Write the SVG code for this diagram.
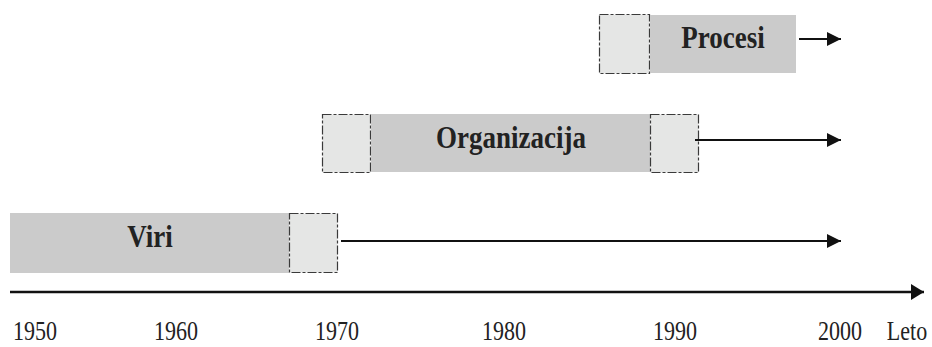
<svg xmlns="http://www.w3.org/2000/svg" width="932" height="347" viewBox="0 0 932 347">
  <style>
    .bar { fill: #cbcbcb; }
    .ext { fill: #e5e6e5; stroke: #3a3a3a; stroke-width: 1.2; stroke-dasharray: 9 2 3 2; }
    .title { font-family: "Liberation Serif", "Times New Roman", serif; font-weight: bold; font-size: 27px; fill: #222; text-anchor: middle; }
    .year { font-family: "Liberation Serif", "Times New Roman", serif; font-size: 22px; fill: #222; text-anchor: middle; }
    .conn { stroke: #111; stroke-width: 2; fill: none; }
    .axis { stroke: #111; stroke-width: 2.5; fill: none; }
  </style>
  <defs>
    <marker id="head" markerUnits="userSpaceOnUse" markerWidth="15" markerHeight="15" refX="14" refY="7" orient="auto">
      <path d="M0,0 L14,7 L0,14 Z" fill="#111"/>
    </marker>
    <marker id="axisHead" markerUnits="userSpaceOnUse" markerWidth="15" markerHeight="17" refX="13" refY="8" orient="auto">
      <path d="M0,0 L13,8 L0,16 Z" fill="#111"/>
    </marker>
  </defs>

  <!-- Procesi -->
  <g id="procesi">
    <rect class="ext" x="599.5" y="14.5" width="50" height="59"/>
    <rect class="bar" x="650" y="15" width="146" height="58"/>
    <text class="title" transform="translate(723,48) scale(1,1.2)">Procesi</text>
  </g>

  <!-- Organizacija -->
  <g id="organizacija">
    <rect class="ext" x="322.5" y="114.5" width="48" height="58"/>
    <rect class="bar" x="371" y="114" width="279" height="58"/>
    <rect class="ext" x="650.5" y="114.5" width="48" height="58"/>
    <text class="title" transform="translate(511,148) scale(1,1.2)">Organizacija</text>
  </g>

  <!-- Viri -->
  <g id="viri">
    <rect class="bar" x="10" y="213" width="279" height="60"/>
    <rect class="ext" x="289.5" y="213.5" width="48" height="59"/>
    <text class="title" transform="translate(150,247) scale(1,1.2)">Viri</text>
  </g>

  <!-- connectors -->
  <g id="connectors">
    <line class="conn" x1="799" y1="39" x2="841" y2="39" marker-end="url(#head)"/>
    <line class="conn" x1="695" y1="140" x2="841" y2="140" marker-end="url(#head)"/>
    <line class="conn" x1="341" y1="241" x2="841" y2="241" marker-end="url(#head)"/>
  </g>

  <!-- time axis -->
  <g id="axis">
    <line class="axis" x1="10" y1="292" x2="924" y2="292" marker-end="url(#axisHead)"/>
    <text class="year" transform="translate(35,340) scale(1,1.25)">1950</text>
    <text class="year" transform="translate(176,340) scale(1,1.25)">1960</text>
    <text class="year" transform="translate(337,340) scale(1,1.25)">1970</text>
    <text class="year" transform="translate(504,340) scale(1,1.25)">1980</text>
    <text class="year" transform="translate(675,340) scale(1,1.25)">1990</text>
    <text class="year" transform="translate(840,340) scale(1,1.25)">2000</text>
    <text class="year" transform="translate(907,340) scale(1,1.25)">Leto</text>
  </g>
</svg>
